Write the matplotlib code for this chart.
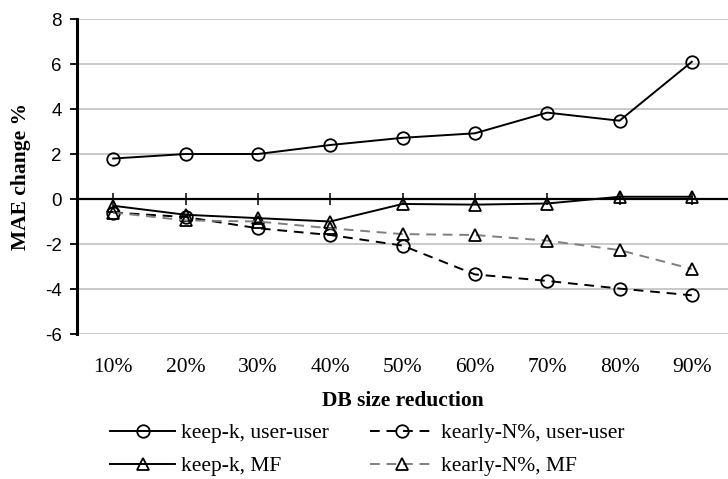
"""MAE change vs DB size reduction, keep-k vs kearly-N%."""

import matplotlib

matplotlib.use("Agg")

import matplotlib.pyplot as plt
import numpy as np

CATEGORIES = ["10%", "20%", "30%", "40%", "50%", "60%", "70%", "80%", "90%"]
KEEP_K_USER = [1.8, 2.0, 2.0, 2.4, 2.72, 2.92, 3.84, 3.48, 6.1]
KEARLY_USER = [-0.6, -0.8, -1.3, -1.6, -2.07, -3.35, -3.64, -3.98, -4.28]
KEEP_K_MF = [-0.3, -0.7, -0.85, -1.0, -0.22, -0.25, -0.2, 0.1, 0.1]
KEARLY_MF = [-0.6, -0.95, -1.0, -1.3, -1.56, -1.6, -1.85, -2.27, -3.11]
Y_TICKS = [-6, -4, -2, 0, 2, 4, 6, 8]

SERIF = "Liberation Serif"
SANS = "Liberation Sans"

fig = plt.figure(figsize=(7.28, 4.79), dpi=100)
axis = fig.add_axes([0.1058, 0.3027, 0.8942, 0.6576])

x = np.arange(len(CATEGORIES))
common = dict(linewidth=1.4, markersize=9, markerfacecolor="none",
              markeredgecolor="black", markeredgewidth=1.3)

h1, = axis.plot(x, KEEP_K_USER, "-", marker="o", color="black",
                label="keep-k, user-user", **common)
h2, = axis.plot(x, KEARLY_USER, "--", marker="o", color="black",
                label="kearly-N%, user-user", dashes=(5, 3.5), **common)
h3, = axis.plot(x, KEEP_K_MF, "-", marker="^", color="black",
                label="keep-k, MF", **common)
h4, = axis.plot(x, KEARLY_MF, "--", marker="^", color="#7f7f7f",
                label="kearly-N%, MF", dashes=(5, 3.5), **common)

axis.set_xlim(-0.5, len(CATEGORIES) - 0.5)
axis.set_ylim(-6, 8)
axis.set_yticks(Y_TICKS)
axis.set_yticklabels([str(v) for v in Y_TICKS], fontsize=13.5, family=SANS)
axis.set_xticks(x)
axis.set_xticklabels(CATEGORIES, fontsize=15.5, family=SERIF)
axis.tick_params(axis="x", length=0, pad=17)
axis.tick_params(axis="y", length=5, width=1.3, direction="out", pad=6)

axis.grid(axis="y", color="#c0c0c0", linewidth=1.2)
axis.set_axisbelow(True)
axis.axhline(0, color="black", linewidth=1.6, zorder=1.5)
for side in ("top", "right", "bottom"):
    axis.spines[side].set_visible(False)
axis.spines["left"].set_linewidth(2.2)

# tick marks on the zero line
zero_axis = axis.secondary_xaxis(6 / 14)
zero_axis.set_xticks(x)
zero_axis.set_xticklabels([])
zero_axis.tick_params(length=8, width=1.1, direction="inout")
zero_axis.spines["bottom"].set_visible(False)
zero_axis.spines["top"].set_visible(False)

axis.set_xlabel("DB size reduction", fontsize=15.5, family=SERIF,
                fontweight="bold", labelpad=10)
axis.set_ylabel("MAE change %", fontsize=15.5, family=SERIF,
                fontweight="bold", labelpad=10)

handles = [h1, h3, h2, h4]
fig.legend(handles=handles, labels=[h.get_label() for h in handles],
           ncol=2, loc="lower left", bbox_to_anchor=(0.125, -0.035),
           frameon=False, prop={"family": SERIF, "size": 15.5},
           handlelength=3.0, columnspacing=1.9, labelspacing=0.6,
           handletextpad=0.3)

fig.savefig("out.png", dpi=100, facecolor="white")
